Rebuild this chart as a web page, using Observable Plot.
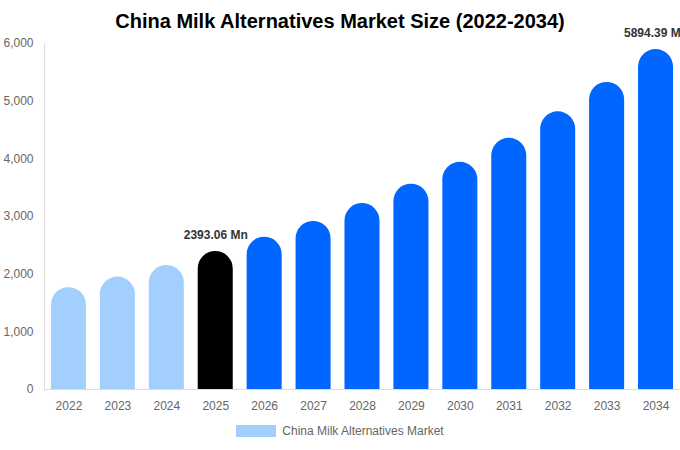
<!DOCTYPE html>
<html>
<head>
<meta charset="utf-8">
<script src="https://cdn.jsdelivr.net/npm/d3@7"></script>
<script src="https://cdn.jsdelivr.net/npm/@observablehq/plot@0.6"></script>
<style>
  html, body { margin: 0; padding: 0; background: #fff; }
  #wrap { position: relative; width: 680px; height: 450px; font-family: "Liberation Sans", Arial, sans-serif; overflow: hidden; }
  #title { position: absolute; top: 8px; left: 0; width: 680px; text-align: center; font-size: 20px; font-weight: bold; color: #000; line-height: 26px; }
  #chart { position: absolute; top: 0; left: 0; }
  #chart svg { overflow: visible; }
  #legend { position: absolute; top: 424px; left: 0; width: 680px; display: flex; justify-content: center; align-items: center; font-size: 12px; color: #666; }
  #legend .sw { width: 40px; height: 12px; background: #a3cffe; margin-right: 6px; }
</style>
</head>
<body>
<div id="wrap">
  <div id="chart"></div>
  <div id="title">China Milk Alternatives Market Size (2022-2034)</div>
  <div id="legend"><span class="sw"></span><span>China Milk Alternatives Market</span></div>
</div>
<script>
const years = [2022, 2023, 2024, 2025, 2026, 2027, 2028, 2029, 2030, 2031, 2032, 2033, 2034];
const values = [1765, 1950, 2150, 2393.06, 2640, 2915, 3225, 3560, 3940, 4355, 4815, 5325, 5894.39];
const periods = ["hist", "hist", "hist", "base", "fc", "fc", "fc", "fc", "fc", "fc", "fc", "fc", "fc"];
const periodNames = ["hist", "base", "fc"];
const periodColors = ["#a3cffe", "#000000", "#0066ff"];
const labeledYears = [2025, 2034];
const yTicks = [0, 1000, 2000, 3000, 4000, 5000, 6000];

const data = years.map((y, i) => ({year: y, value: values[i], period: periods[i]}));
const labels = data.filter(d => labeledYears.includes(d.year));

const chart = Plot.plot({
  width: 680,
  height: 420,
  marginTop: 43,
  marginBottom: 31,
  marginLeft: 44,
  marginRight: 0,
  style: {fontFamily: "Liberation Sans, Arial, sans-serif", background: "transparent", overflow: "visible"},
  x: {type: "band", domain: years, paddingInner: 0.284, paddingOuter: 0.142, round: false, label: null},
  y: {domain: [0, 6000], label: null},
  color: {domain: periodNames, range: periodColors},
  marks: [
    Plot.frame({anchor: "left", stroke: "#dddddd"}),
    Plot.frame({anchor: "bottom", stroke: "#dddddd"}),
    Plot.barY(data, {x: "year", y: "value", fill: "period", ry1: 17.5, rx1y1: 17.5, rx2y1: 17.5}),
    Plot.text(labels, {x: "year", y: "value", text: d => d.value.toFixed(2) + " Mn", dy: -16, fontWeight: "bold", fontSize: 12, fill: "#333"}),
    Plot.axisX({tickSize: 0, tickPadding: 12, fontSize: 12, color: "#666", tickFormat: d => String(d), label: null}),
    Plot.axisY({ticks: yTicks, tickFormat: d3.format(","), tickSize: 0, tickPadding: 11, fontSize: 12, color: "#666", label: null})
  ]
});
document.getElementById("chart").appendChild(chart);
</script>
</body>
</html>
